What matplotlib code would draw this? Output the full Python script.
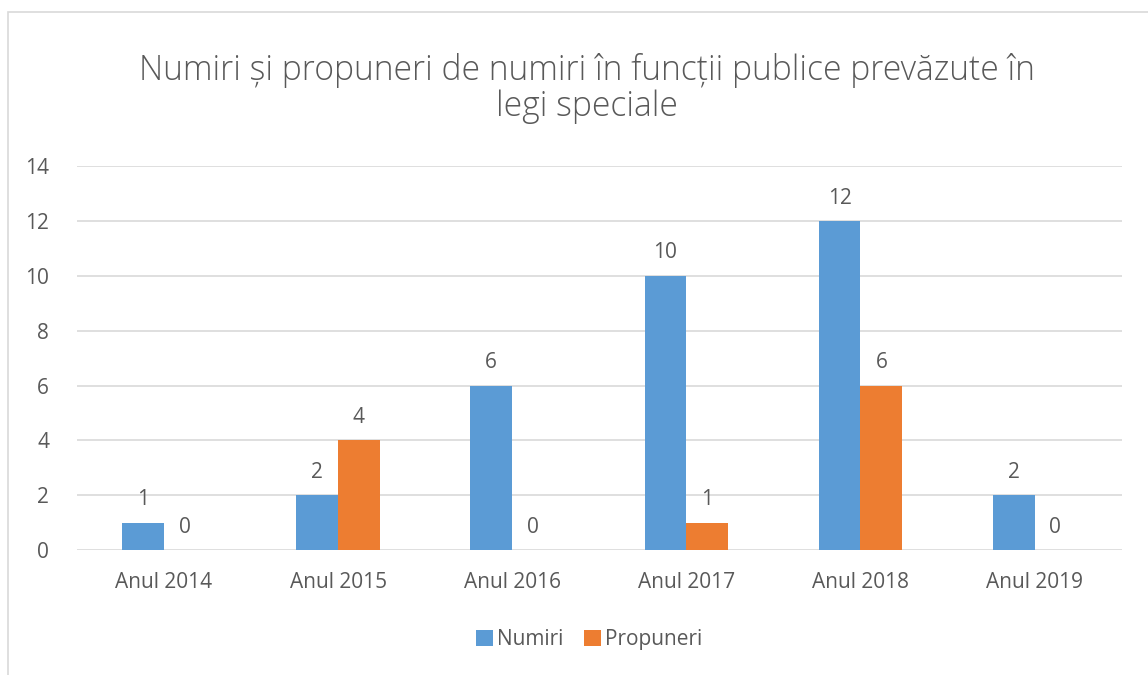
import matplotlib
matplotlib.use('agg')
import matplotlib.pyplot as plt
import numpy as np
from matplotlib.patches import Rectangle

categories = ["Anul 2014", "Anul 2015", "Anul 2016", "Anul 2017", "Anul 2018", "Anul 2019"]
numiri = [1, 2, 6, 10, 12, 2]
propuneri = [0, 4, 0, 1, 6, 0]
series_names = ["Numiri", "Propuneri"]
title = "Numiri și propuneri de numiri în funcții publice prevăzute în\nlegi speciale"

BLUE = "#5B9BD5"
ORANGE = "#ED7D31"
TEXT = "#595959"
GRID = "#D9D9D9"

plt.rcParams['font.family'] = ['Open Sans', 'DejaVu Sans']

fig = plt.figure(figsize=(11.48, 6.75), dpi=100)
ax = fig.add_axes([0.067, 0.185, 0.91, 0.569])

# chart frame
fig.patches.append(Rectangle((8 / 1148, -0.1), 1.2, 1 - 12 / 675 + 0.1,
                             transform=fig.transFigure, fill=False,
                             edgecolor=GRID, linewidth=1.2))

x = np.arange(len(categories))
w = 0.24
b1 = ax.bar(x - w / 2, numiri, w, color=BLUE, label=series_names[0], zorder=3)
b2 = ax.bar(x + w / 2, propuneri, w, color=ORANGE, label=series_names[1], zorder=3)

for bars in (b1, b2):
    for r in bars:
        ax.text(r.get_x() + r.get_width() / 2, r.get_height() + 0.45,
                f"{int(r.get_height())}", ha='center', va='bottom',
                fontsize=15, color=TEXT)

ax.set_xlim(-0.5, len(categories) - 0.5)
ax.set_ylim(0, 14)
ax.set_yticks(range(0, 15, 2))
ax.set_xticks(x)
ax.set_xticklabels(categories)
ax.tick_params(axis='both', length=0, labelsize=15, labelcolor=TEXT)
ax.tick_params(axis='x', pad=16)
ax.tick_params(axis='y', pad=20)
ax.grid(axis='y', color=GRID, linewidth=1.2, zorder=0)
for s in ax.spines.values():
    s.set_visible(False)

fig.text(0.511, 0.869, title, ha='center', va='center', fontsize=24.2,
         color=TEXT, linespacing=1.05, fontweight='light')

fig.legend(loc='center', bbox_to_anchor=(0.513, 0.052), ncol=2, frameon=False,
           handlelength=0.8, handleheight=0.8, handletextpad=0.2,
           columnspacing=1.0, fontsize=15, labelcolor=TEXT)

fig.savefig("out.png", dpi=100)
